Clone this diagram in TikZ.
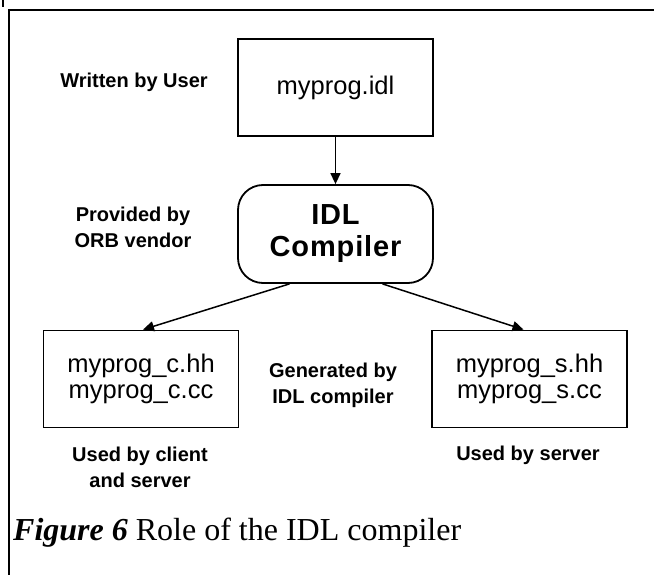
\documentclass[tikz,border=0pt]{standalone}
\usepackage{fontspec}
\setmainfont{Liberation Sans}
\newfontfamily\capfont{Liberation Serif}
\newfontfamily\compfont[LetterSpace=3]{Liberation Sans}
\usetikzlibrary{arrows.meta}
\begin{document}
\begin{tikzpicture}[x=1pt,y=-1pt,
  lbl/.style={font=\fontsize{20}{26}\selectfont\bfseries, align=center, inner sep=0pt},
  filebox/.style={draw, line width=1.8pt, minimum width=195pt, minimum height=97pt, align=center, inner sep=0pt, font=\fontsize{25.5}{26}\selectfont},
  compbox/.style={draw, line width=1.8pt, rounded corners=25pt, minimum width=195pt, minimum height=98pt, align=center, inner sep=0pt, font=\compfont\fontsize{29}{32}\selectfont\bfseries},
  conn/.style={line width=1.5pt, -{Triangle[length=11pt,width=10pt]}}]
\useasboundingbox (0,0) rectangle (654,575);
% frame
\draw[line width=2.2pt] (9,575) -- (9,10) -- (654,10);
\draw[line width=1.5pt] (3,0) -- (3,7);
% boxes
\node[filebox] (idl) at (335.5,87.5) {myprog.idl};
\node[compbox] (comp) at (335.5,234) {IDL\\Compiler};
\node[filebox] (cfile) at (141,379) {myprog\_c.hh\\myprog\_c.cc};
\node[filebox] (sfile) at (529.5,379) {myprog\_s.hh\\myprog\_s.cc};
% labels
\node[lbl] (wuser) at (134,82) {Written by User};
\node[lbl] (orb) at (133,227) {Provided by\\ORB vendor};
\node[lbl] (gen) at (333,385) {Generated by\\IDL compiler};
\node[lbl] (ucli) at (140,467) {Used by client\\and server};
\node[lbl] (usrv) at (528,455) {Used by server};
% caption
\node[anchor=base west, inner sep=0pt, font=\capfont\fontsize{32}{32}\selectfont] (cap) at (13,540) {\textbf{\textit{Figure 6}} Role of the IDL compiler};
% connectors
\draw[conn] (idl.south) -- (comp.north);
\draw[conn] ([xshift=-46pt]comp.south) -- ([xshift=2pt]cfile.north);
\draw[conn] ([xshift=47pt]comp.south) -- ([xshift=-6pt]sfile.north);
\end{tikzpicture}
\end{document}
